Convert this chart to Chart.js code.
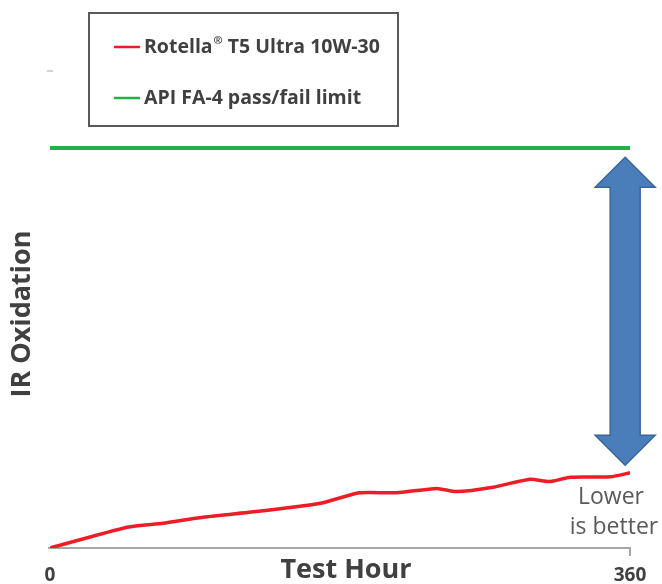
<!DOCTYPE html>
<html>
<head>
<meta charset="UTF-8">
<title>IR Oxidation</title>
<script src="https://cdn.jsdelivr.net/npm/chart.js"></script>
<style>
  body { margin: 0; background: #fff; }
  canvas { display: block; }
</style>
</head>
<body>
<canvas id="chart" width="662" height="584"></canvas>
<script>
// Data (y in arbitrary oxidation units, no scale shown)
const hours = [0, 48, 70, 95, 132, 168, 192, 215, 240, 252, 275, 298, 310, 323, 348, 360];
const oxidation = [0, 5.2, 6.2, 7.7, 9.3, 11.2, 13.8, 13.8, 14.9, 14.1, 15.2, 17.2, 16.6, 17.7, 17.8, 18.8];
const limitHours = [0, 360];
const limitValues = [100, 100];
const xTicks = [0, 360];
const seriesNames = ['Rotella\u00AE T5 Ultra 10W-30', 'API FA-4 pass/fail limit'];
const seriesColors = ['#ee1c25', '#22b04b'];

const gray = '#595959';
const dark = '#404040';

// draws text, putting a registered mark as a small superscript
function drawLabel(ctx, text, x, y, size) {
  const parts = text.split('\u00AE');
  ctx.font = 'bold ' + size + 'px "Open Sans"';
  ctx.fillText(parts[0], x, y);
  if (parts.length < 2) return;
  x += ctx.measureText(parts[0]).width + 1;
  ctx.font = 'bold ' + Math.round(size * 0.55) + 'px "Open Sans"';
  ctx.fillText('\u00AE', x, y - size * 0.3);
  x += ctx.measureText('\u00AE').width;
  ctx.font = 'bold ' + size + 'px "Open Sans"';
  ctx.fillText(parts[1], x, y);
}

const decorations = {
  id: 'decorations',
  beforeDatasetsDraw(chart) {
    const ctx = chart.ctx, a = chart.chartArea;
    ctx.save();
    ctx.strokeStyle = '#a6a6a6';
    ctx.lineWidth = 2;
    ctx.beginPath();
    ctx.moveTo(a.left - 2, a.bottom);
    ctx.lineTo(a.right, a.bottom);
    ctx.lineTo(a.right, a.bottom + 8);
    ctx.stroke();
    // stray tick near top of the y axis
    ctx.lineWidth = 1;
    ctx.beginPath();
    ctx.moveTo(a.left - 3, 71);
    ctx.lineTo(a.left + 3, 71);
    ctx.stroke();
    ctx.restore();
  },
  afterDraw(chart) {
    const ctx = chart.ctx, xs = chart.scales.x, ys = chart.scales.y;
    ctx.save();

    // x tick labels and title
    ctx.fillStyle = dark;
    ctx.textAlign = 'center';
    ctx.textBaseline = 'middle';
    ctx.font = 'bold 19px "Open Sans"';
    xTicks.forEach(t => ctx.fillText(String(t), xs.getPixelForValue(t), 576));
    ctx.font = 'bold 27px "Open Sans"';
    ctx.fillText('Test Hour', 346, 570);

    // y title
    ctx.save();
    ctx.translate(22, 314);
    ctx.rotate(-Math.PI / 2);
    ctx.font = 'bold 27px "Open Sans"';
    ctx.fillText('IR Oxidation', 0, 0);
    ctx.restore();

    // legend box
    ctx.strokeStyle = gray;
    ctx.lineWidth = 2;
    ctx.strokeRect(89, 13, 309, 113);
    ctx.textAlign = 'left';
    [47, 98].forEach((y, i) => {
      ctx.strokeStyle = seriesColors[i];
      ctx.lineWidth = 2.5;
      ctx.beginPath();
      ctx.moveTo(114, y);
      ctx.lineTo(140, y);
      ctx.stroke();
      ctx.fillStyle = dark;
      drawLabel(ctx, seriesNames[i], 144, y, 19.5);
    });

    // double arrow between limit and result
    const cx = xs.getPixelForValue(357);
    const top = ys.getPixelForValue(97.7);
    const bot = ys.getPixelForValue(20.7);
    const hw = 30, hh = 30, sw = 15;
    ctx.beginPath();
    ctx.moveTo(cx, top);
    ctx.lineTo(cx + hw, top + hh);
    ctx.lineTo(cx + sw, top + hh);
    ctx.lineTo(cx + sw, bot - hh);
    ctx.lineTo(cx + hw, bot - hh);
    ctx.lineTo(cx, bot);
    ctx.lineTo(cx - hw, bot - hh);
    ctx.lineTo(cx - sw, bot - hh);
    ctx.lineTo(cx - sw, top + hh);
    ctx.lineTo(cx - hw, top + hh);
    ctx.closePath();
    ctx.fillStyle = '#4a7ebb';
    ctx.fill();
    ctx.strokeStyle = '#3a659a';
    ctx.lineWidth = 1.5;
    ctx.stroke();

    // note
    ctx.fillStyle = gray;
    ctx.textAlign = 'center';
    ctx.font = '23px "Open Sans"';
    ctx.fillText('Lower', 611, 497);
    ctx.fillText('is better', 614, 527);

    ctx.restore();
  }
};

new Chart(document.getElementById('chart').getContext('2d'), {
  type: 'line',
  data: {
    datasets: [
      {
        label: seriesNames[0],
        data: hours.map((h, i) => ({ x: h, y: oxidation[i] })),
        borderColor: seriesColors[0],
        borderWidth: 3.5,
        pointRadius: 0,
        tension: 0.2
      },
      {
        label: seriesNames[1],
        data: limitHours.map((h, i) => ({ x: h, y: limitValues[i] })),
        borderColor: seriesColors[1],
        borderWidth: 4,
        pointRadius: 0
      }
    ]
  },
  options: {
    responsive: false,
    animation: false,
    layout: { padding: { left: 50, right: 32, top: 68, bottom: 36 } },
    scales: {
      x: { type: 'linear', min: 0, max: 360, display: false },
      y: { min: 0, max: 120, display: false }
    },
    plugins: { legend: { display: false }, tooltip: { enabled: false } }
  },
  plugins: [decorations]
});
</script>
</body>
</html>
